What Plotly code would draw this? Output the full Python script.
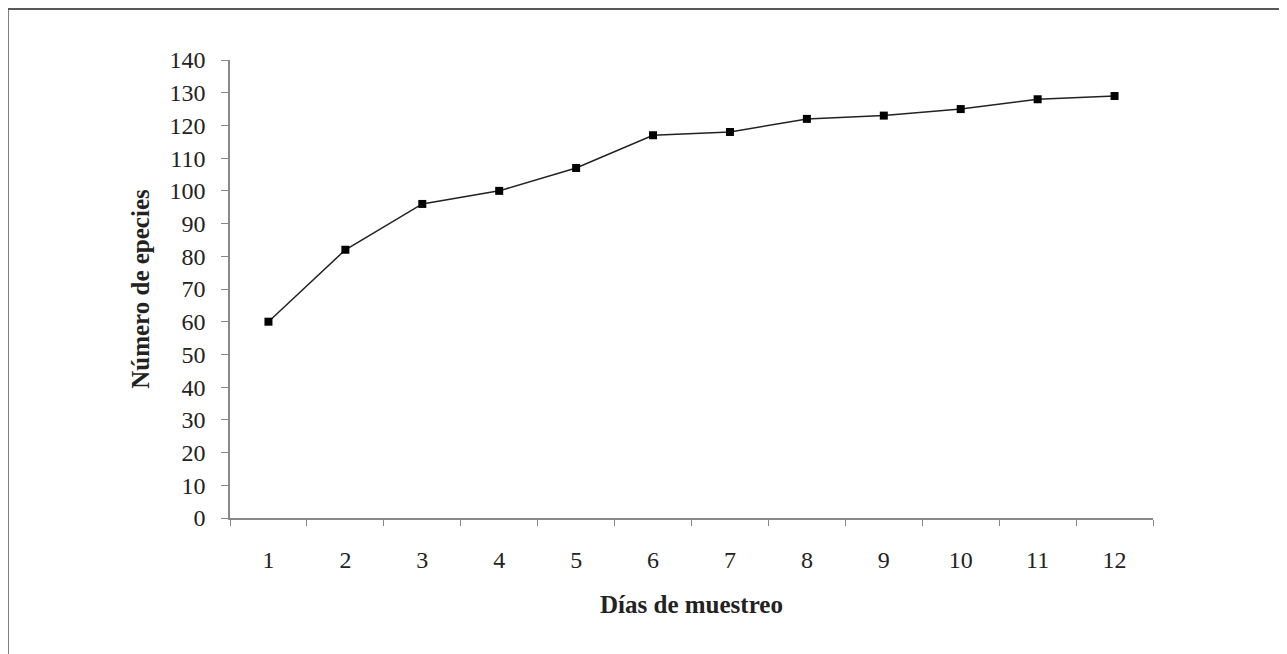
import plotly.graph_objects as go

dias = ["1", "2", "3", "4", "5", "6", "7", "8", "9", "10", "11", "12"]
especies = [60, 82, 96, 100, 107, 117, 118, 122, 123, 125, 128, 129]
y_ticks = list(range(0, 141, 10))

W, H = 1287, 654
L, T = 222, 52
pw, ph = 923, 458
R, B = W - L - pw, H - T - ph

def px(x):
    return (x - L) / pw

def py(y):
    return (H - B - y) / ph

fig = go.Figure()
fig.add_trace(go.Scatter(
    x=dias, y=especies, mode="lines+markers",
    line=dict(color="#222222", width=1.5),
    marker=dict(symbol="square", size=8, color="black"),
    showlegend=False,
))

font_serif = "Liberation Serif, Times New Roman, serif"
fig.update_layout(
    width=W, height=H,
    margin=dict(l=L, r=R, t=T, b=B),
    paper_bgcolor="white", plot_bgcolor="white",
    font=dict(family=font_serif, size=24, color="#222222"),
    xaxis=dict(
        type="category", range=[-0.5, 11.5], tickson="boundaries",
        ticks="outside", ticklen=6,
        tickcolor="#888888", showline=True, linecolor="#888888", linewidth=1.5,
        showgrid=False, zeroline=False, ticklabelstandoff=19,
        tickfont=dict(family=font_serif, size=24),
        title=dict(text="<b>Días de muestreo</b>", standoff=24,
                   font=dict(family=font_serif, size=25)),
    ),
    yaxis=dict(
        range=[0, 140], tickvals=y_ticks, ticks="outside", ticklen=7,
        tickcolor="#888888", showline=True, linecolor="#888888", linewidth=1.5,
        showgrid=False, zeroline=False, ticklabelstandoff=11,
        tickfont=dict(family=font_serif, size=24),
        title=dict(text="<b>Número de epecies</b>", standoff=13,
                   font=dict(family=font_serif, size=25)),
    ),
    shapes=[
        dict(type="line", xref="paper", yref="paper",
             x0=px(0), y0=py(1), x1=px(W), y1=py(1),
             line=dict(color="#222222", width=1.5)),
        dict(type="line", xref="paper", yref="paper",
             x0=px(0), y0=py(1), x1=px(0), y1=py(H),
             line=dict(color="#555555", width=1.5)),
    ],
)

fig.write_html("out.html")
